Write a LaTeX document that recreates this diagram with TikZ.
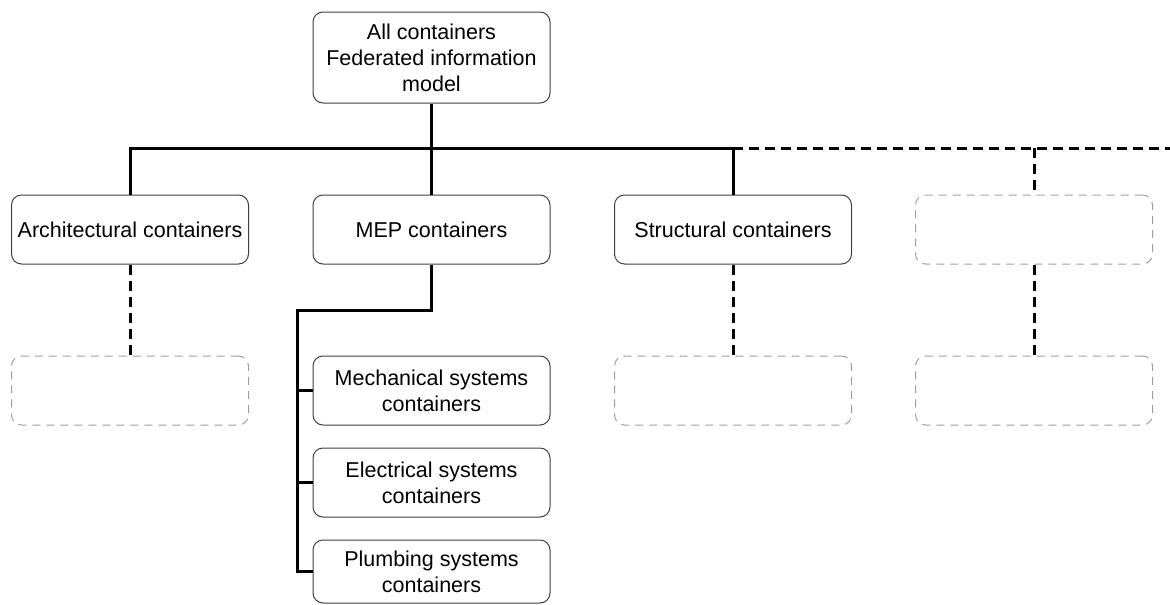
\documentclass[tikz,border=0pt]{standalone}
\usepackage{fontspec}
\setmainfont{Liberation Sans}
\begin{document}
\begin{tikzpicture}[x=1pt,y=-1pt,
 box/.style={draw=black!75, line width=1pt, rounded corners=10pt, fill=white,
   minimum width=237pt, minimum height=69pt, align=center,
   font=\fontsize{21.5}{26}\selectfont, inner sep=0pt},
 ghost/.style={draw=black!38, dash pattern=on 8pt off 6pt, line width=1pt,
   rounded corners=10pt, minimum width=237pt, minimum height=69pt, inner sep=0pt},
 conn/.style={line width=3pt},
 dconn/.style={line width=3pt, dash pattern=on 10pt off 6pt}]
\useasboundingbox (0,0) rectangle (1170,605);

% nodes
\node[box, minimum height=91pt] (top) at (431.5,57.5) {All containers\\Federated information\\model};
\node[box] (arch)   at (130,229.5) {Architectural containers};
\node[box] (mep)    at (431.5,229.5) {MEP containers};
\node[box] (struct) at (733,229.5) {Structural containers};
\node[ghost] (g1) at (1034,229.5) {};
\node[ghost] (g2) at (130,390.5) {};
\node[ghost] (g3) at (733,390.5) {};
\node[ghost] (g4) at (1034,390.5) {};
\node[box] (mech)  at (431.5,390.5) {Mechanical systems\\containers};
\node[box] (elec)  at (431.5,482.5) {Electrical systems\\containers};
\node[box, minimum height=63pt] (plumb) at (431.5,571.5) {Plumbing systems\\containers};

% junctions
\coordinate (j) at (431.5,148);
\coordinate (edge) at (1172,148);
\coordinate (bus) at (297,310);

% top level connectors
\draw[conn] (top.south) -- (mep.north);
\draw[conn] (arch.north) |- (struct.north |- j) -- (struct.north);
\draw[dconn] (struct.north |- j) -- (edge);
\draw[dconn] (g1.north |- j) -- (g1.north);

% dashed connectors to placeholders
\draw[dconn] (arch.south) -- (g2.north);
\draw[dconn] (struct.south) -- (g3.north);
\draw[dconn] (g1.south) -- (g4.north);

% MEP sub-tree
\draw[conn] (mep.south) |- (bus) -- (bus |- plumb.west) -- (plumb.west);
\draw[conn] (bus |- mech.west) -- (mech.west);
\draw[conn] (bus |- elec.west) -- (elec.west);
\end{tikzpicture}
\end{document}
